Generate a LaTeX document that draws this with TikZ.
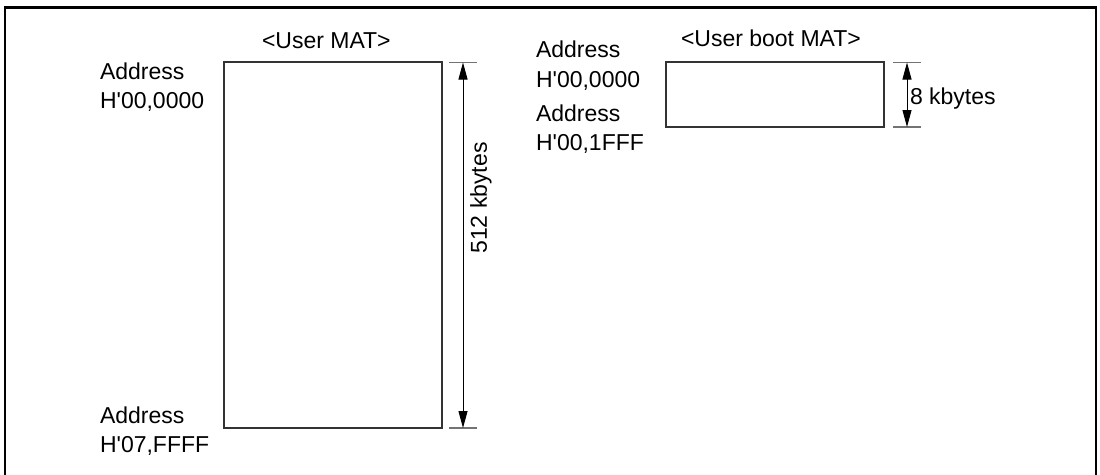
\documentclass[tikz,border=0pt]{standalone}
\usepackage{fontspec}
\setmainfont{Liberation Sans}
\usetikzlibrary{arrows.meta}
\begin{document}
\begin{tikzpicture}[x=1pt,y=-1pt,
  every node/.style={font=\fontsize{23}{28}\selectfont, inner sep=0pt, outer sep=0pt},
  lbl/.style={anchor=base west},
  mem/.style={draw=black!80, line width=1.5pt, fill=white, anchor=north west, minimum width=218pt},
  tick/.style={draw=black!55, line width=1.2pt},
  dim/.style={draw=black, line width=1pt, {Triangle[length=17pt,width=9pt]}-{Triangle[length=17pt,width=9pt]}},
  frame/.style={draw=black, line width=2.2pt}]
\useasboundingbox (0,0) rectangle (1100,474);
\clip (0,0) rectangle (1100,474);
\fill[white] (0,0) rectangle (1100,474);
% outer frame (open at the bottom, cropped)
\draw[frame] (5,490) -- (5,7.5) -- (1096,7.5) -- (1096,490);

% ---------- User MAT ----------
\node[lbl] (t1) at (262,48) {<User MAT>};
\node[mem, minimum height=366pt] (umat) at (224,62) {};
\node[lbl] (a1) at (100,79) {Address};
\node[lbl] (h1) at (100,108) {H\textquotesingle 00,0000};
\node[lbl] (a2) at (100,423) {Address};
\node[lbl] (h2) at (100,452) {H\textquotesingle 07,FFFF};
\coordinate (k1a) at (449,62.5);
\coordinate (k1b) at (477,62.5);
\coordinate (k2a) at (449,428);
\coordinate (k2b) at (477,428);
\draw[tick] (k1a) -- (k1b);
\draw[tick] (k2a) -- (k2b);
\coordinate (d1a) at (463,62.5);
\coordinate (d1b) at (463,428);
\draw[dim] (d1a) -- (d1b);
\node[rotate=90] (s1) at (481,198) {512 kbytes};

% ---------- User boot MAT ----------
\node[lbl] (t2) at (681,46) {<User boot MAT>};
\node[mem, minimum height=65pt] (ubmat) at (666,62) {};
\node[lbl] (a3) at (536,57) {Address};
\node[lbl] (h3) at (536,87) {H\textquotesingle 00,0000};
\node[lbl] (a4) at (536,121) {Address};
\node[lbl] (h4) at (536,150) {H\textquotesingle 00,1FFF};
\coordinate (k3a) at (893,62.5);
\coordinate (k3b) at (921,62.5);
\coordinate (k4a) at (893,127);
\coordinate (k4b) at (921,127);
\draw[tick] (k3a) -- (k3b);
\draw[tick] (k4a) -- (k4b);
\coordinate (d2a) at (907,62.5);
\coordinate (d2b) at (907,127);
\draw[dim] (d2a) -- (d2b);
\node[lbl] (s2) at (910,104) {8 kbytes};
\end{tikzpicture}
\end{document}
